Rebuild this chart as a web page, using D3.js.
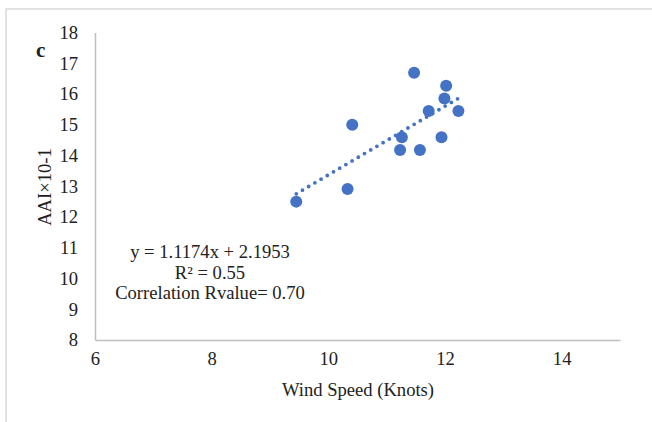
<!DOCTYPE html>
<html>
<head>
<meta charset="utf-8">
<script src="https://cdn.jsdelivr.net/npm/d3@7"></script>
<style>
  html, body { margin: 0; padding: 0; background: #fff; }
  svg { display: block; }
  text { font-family: "Liberation Serif", "Times New Roman", serif; fill: #222; }
</style>
</head>
<body>
<svg id="chart" width="652" height="422"></svg>
<script>
const windSpeed = [9.45, 10.33, 10.41, 11.47, 11.26, 11.23, 11.57, 11.72, 11.94, 12.02, 11.99, 12.23];
const aai       = [12.50, 12.91, 15.00, 16.69, 14.59, 14.18, 14.18, 15.45, 14.59, 16.27, 15.85, 15.45];
const xTicks = [6, 8, 10, 12, 14];
const yTicks = [8, 9, 10, 11, 12, 13, 14, 15, 16, 17, 18];
const trendSlope = 1.1174, trendIntercept = 2.1953;
const annotations = ["y = 1.1174x + 2.1953", "R² = 0.55", "Correlation Rvalue= 0.70"];

const svg = d3.select("#chart");
const color = "#4472C4";

// outer chart frame (partly cropped)
svg.append("rect").attr("x", 6).attr("y", 9).attr("width", 700).attr("height", 500)
  .attr("fill", "none").attr("stroke", "#d9d9d9").attr("stroke-width", 1.5);

const x = d3.scaleLinear().domain([6, 15]).range([95, 620]);
const y = d3.scaleLinear().domain([8, 18]).range([340, 32.5]);
const fs = 18.6;

// axes
const xAxis = svg.append("g").attr("transform", "translate(0,340)")
  .call(d3.axisBottom(x).tickValues(xTicks).tickSize(0).tickPadding(12));
xAxis.select(".domain").attr("stroke", "#bfbfbf").attr("stroke-width", 1.5);
xAxis.selectAll("text").attr("font-size", fs).attr("fill", "#222")
  .attr("font-family", "Liberation Serif, serif");

const yAxis = svg.append("g").attr("transform", "translate(95,0)")
  .call(d3.axisLeft(y).tickValues(yTicks).tickSize(0).tickPadding(17));
yAxis.select(".domain").attr("stroke", "#bfbfbf").attr("stroke-width", 1.5);
yAxis.selectAll("text").attr("font-size", fs).attr("fill", "#222")
  .attr("font-family", "Liberation Serif, serif");

// trendline
const xmin = d3.min(windSpeed), xmax = d3.max(windSpeed);
svg.append("line")
  .attr("x1", x(xmin)).attr("y1", y(trendSlope * xmin + trendIntercept))
  .attr("x2", x(xmax)).attr("y2", y(trendSlope * xmax + trendIntercept))
  .attr("stroke", color).attr("stroke-width", 3.8)
  .attr("stroke-linecap", "round").attr("stroke-dasharray", "0 7.2");

// points
svg.append("g").selectAll("circle").data(windSpeed.map((d, i) => [d, aai[i]]))
  .join("circle")
  .attr("cx", d => x(d[0])).attr("cy", d => y(d[1])).attr("r", 6)
  .attr("fill", color);

// annotation
svg.append("g").selectAll("text").data(annotations).join("text")
  .attr("x", 210).attr("y", (d, i) => 258 + i * 20.5)
  .attr("text-anchor", "middle").attr("font-size", fs).text(d => d);

// panel label
svg.append("text").attr("x", 36).attr("y", 57).attr("font-size", 21)
  .attr("font-weight", "bold").text("c");

// axis titles
svg.append("text").attr("transform", "translate(51,187) rotate(-90)")
  .attr("text-anchor", "middle").attr("font-size", fs).text("AAI×10-1");
svg.append("text").attr("x", 358).attr("y", 396)
  .attr("text-anchor", "middle").attr("font-size", fs).text("Wind Speed (Knots)");
</script>
</body>
</html>
